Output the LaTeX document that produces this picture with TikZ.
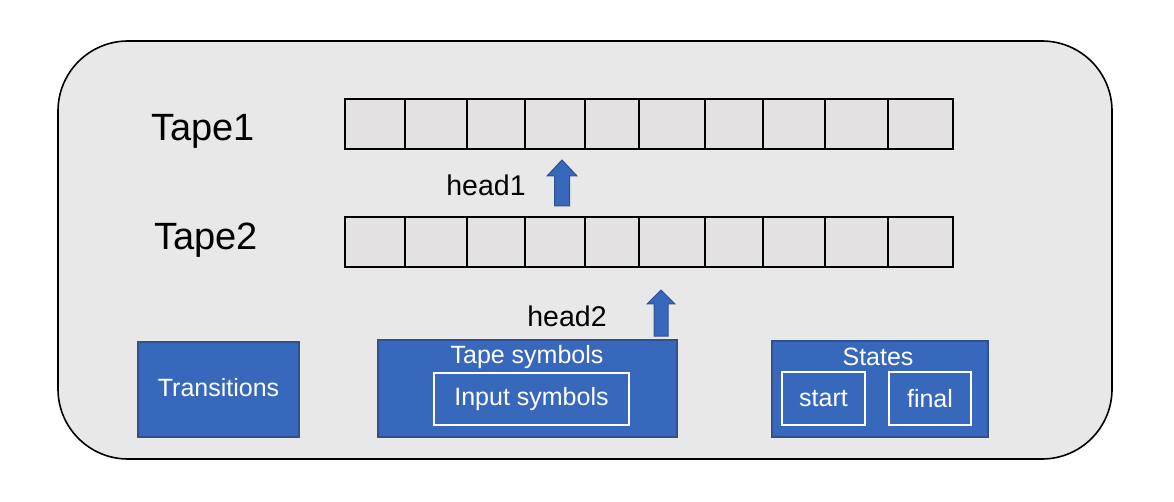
\documentclass[tikz,border=0pt]{standalone}
\usepackage{fontspec}
\setmainfont{Liberation Sans}
\definecolor{bgray}{HTML}{E8E8E8}
\definecolor{cellgray}{HTML}{E3E1E2}
\definecolor{bluefill}{HTML}{3868BC}
\definecolor{blueedge}{HTML}{2F528F}
\tikzset{
  outer/.style={draw=black, line width=1.6pt, fill=bgray, rounded corners=70pt},
  cellbox/.style={draw=black, line width=1.6pt, fill=cellgray},
  bluebox/.style={draw=blueedge, line width=1.5pt, fill=bluefill},
  innerbox/.style={draw=white, line width=1.5pt, fill=bluefill},
  wtext/.style={text=white, font=\fontsize{25}{28}\selectfont, inner sep=0pt},
  lbl/.style={font=\fontsize{38}{42}\selectfont, inner sep=0pt},
  hlbl/.style={font=\fontsize{28.5}{32}\selectfont, inner sep=0pt},
  harrow/.style={draw=blueedge, line width=1pt, fill=bluefill}
}
\begin{document}
\begin{tikzpicture}[x=1pt,y=-1pt]
\useasboundingbox (0,0) rectangle (1174,502);
\fill[white] (0,0) rectangle (1174,502);
\draw[outer] (58,41) rectangle (1112,459);
% tapes
\foreach \t/\y in {1/99, 2/217} {
  \foreach \i/\a/\b in {1/345/405, 2/405/467, 3/467/525, 4/525/585, 5/585/639, 6/639/705, 7/705/763, 8/763/825, 9/825/888, 10/888/953} {
    \draw[cellbox] (\a,\y) rectangle (\b,\y+50);
    \coordinate (t\t c\i) at ({(\a+\b)/2},\y);
  }
}
\node[lbl] (tape1) at (203,131) {Tape1};
\node[lbl] (tape2) at (206,240) {Tape2};
\node[hlbl] (head1) at (486,185) {head1};
\node[hlbl] (head2) at (567,316) {head2};
% arrows
\draw[harrow] (554.5,206) -- (554.5,176) -- (547,176) -- (562,160) -- (577,176) -- (569.5,176) -- (569.5,206) -- cycle;
\draw[harrow] (654,336) -- (654,304) -- (647,304) -- (661,290) -- (675,304) -- (668,304) -- (668,336) -- cycle;
% bottom boxes
\draw[bluebox] (138,342) rectangle (299,437);
\node[wtext] (trans) at (218.5,388) {Transitions};
\draw[bluebox] (378,340) rectangle (677,437);
\node[wtext] (tapesym) at (527,357) {Tape symbols};
\draw[innerbox] (434,373) rectangle (629,425);
\node[wtext] (inputsym) at (531.5,399) {Input symbols};
\draw[bluebox] (772,341) rectangle (988,437);
\node[wtext] (states) at (878,357) {States};
\draw[innerbox] (782,372) rectangle (865,425);
\node[wtext] (start) at (823.5,399) {start};
\draw[innerbox] (889,372) rectangle (971,425);
\node[wtext] (final) at (930,399) {final};
\end{tikzpicture}
\end{document}
